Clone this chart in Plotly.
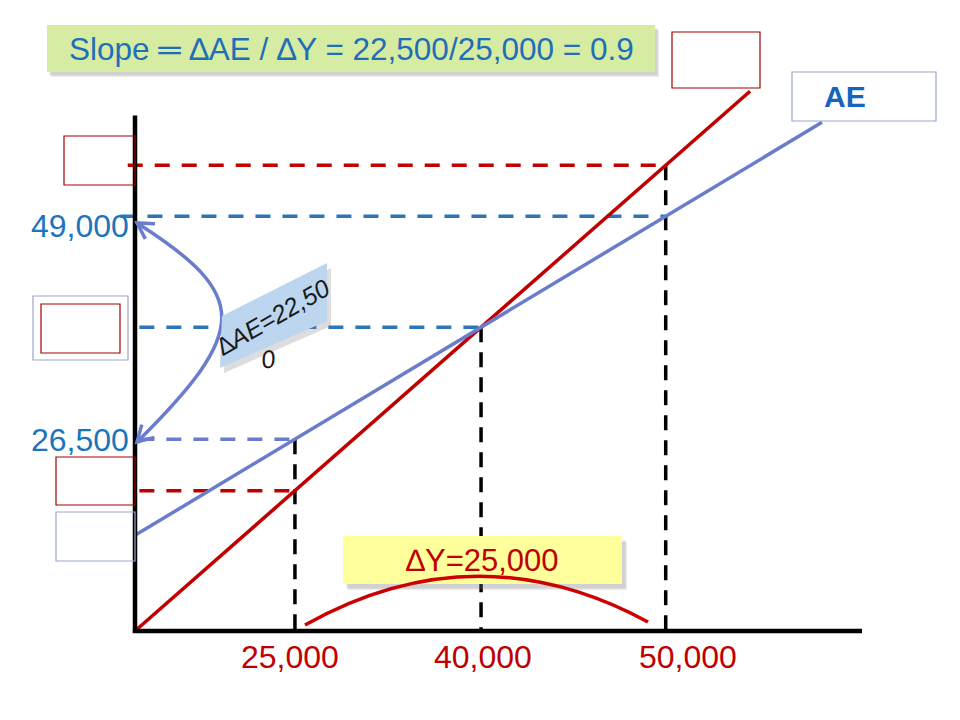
import math
import plotly.graph_objects as go

# ---------------- data (schematic diagram units) ----------------
income_labels = ["25,000", "40,000", "50,000"]      # x tick labels (Y)
income_pos = [22.0, 47.6, 73.0]                      # schematic positions of Y1, Y*, Y2
ae_labels = ["26,500", "49,000"]                     # AE values read at Y1 and Y2
ae_intercept = 15.0                                  # autonomous spending (schematic)
ae_slope = 0.685                                     # schematic slope of AE line
line45_end = 84.6
ae_end = 94.5
x_axis_end = 100.0
y_axis_end = 80.8

slope_text = "Slope ═ ∆AE / ∆Y = 22,500/25,000 = 0.9"
dAE_text = "∆AE=22,50"
dY_text = "∆Y=25,000"

# ---------------- geometry helpers ----------------
W, H = 960, 720
OX, OY = 135, 631          # pixel location of origin
XS, YS = 7.27, 6.38        # pixels per schematic unit


def px(x, y):
    """pixel -> paper coords for decorations"""
    return x / W, 1 - y / H


def ae(x):
    return ae_intercept + ae_slope * x


FONT = "Arial, Liberation Sans, sans-serif"
RED = "#c00000"
BLUE_LINE = "#6a7dcd"
BLUE_DASH = "#2e75b6"
LABEL_BLUE = "#1b75bc"

fig = go.Figure()

# ---------------- dashed guide lines ----------------
y1, ystar, y2 = income_pos
guides = [
    (-1.0, y2, y2, RED),
    (-2.0, y2, ae(y2), BLUE_DASH),
    (0.6, ystar, ae(ystar), BLUE_DASH),
    (0.6, y1, ae(y1), BLUE_LINE),
    (0.6, y1, y1, RED),
]
for x0, x1, yv, col in guides:
    fig.add_trace(go.Scatter(x=[x0, x1], y=[yv, yv], mode="lines",
                             line=dict(color=col, width=3.5, dash="15px,12px"),
                             hoverinfo="skip", showlegend=False))

vert_tops = [ae(y1), ae(ystar), y2]
for xv, top in zip(income_pos, vert_tops):
    fig.add_trace(go.Scatter(x=[xv, xv], y=[top, 0], mode="lines",
                             line=dict(color="black", width=3.5, dash="15px,10px"),
                             hoverinfo="skip", showlegend=False))

# ---------------- main lines ----------------
fig.add_trace(go.Scatter(x=[0, line45_end], y=[0, line45_end], mode="lines",
                         line=dict(color=RED, width=3.5), hoverinfo="skip", showlegend=False))
fig.add_trace(go.Scatter(x=[0, ae_end], y=[ae(0), ae(ae_end)], mode="lines",
                         line=dict(color=BLUE_LINE, width=3.5), hoverinfo="skip", showlegend=False))

# ---------------- axes ----------------
fig.add_trace(go.Scatter(x=[-0.3, x_axis_end], y=[0, 0], mode="lines",
                         line=dict(color="black", width=4.5), hoverinfo="skip", showlegend=False))
fig.add_trace(go.Scatter(x=[0, 0], y=[-0.3, y_axis_end], mode="lines",
                         line=dict(color="black", width=4.5), hoverinfo="skip", showlegend=False))

shapes = []
annotations = []


def rect(x0, y0, x1, y1, line_color=None, fill=None, lw=1.0, layer="above", opacity=1.0):
    a, b = px(x0, y0)
    c, d = px(x1, y1)
    shapes.append(dict(type="rect", xref="paper", yref="paper", x0=a, y0=d, x1=c, y1=b,
                       line=dict(color=line_color or "rgba(0,0,0,0)", width=lw if line_color else 0),
                       fillcolor=fill or "rgba(0,0,0,0)", layer=layer, opacity=opacity))


def path(points, close=False, color=None, width=2, fill=None, layer="above", curve=None):
    pts = [px(*p) for p in points]
    if curve == "C":
        s = "M {} {} C {} {}, {} {}, {} {}".format(*[v for p in pts for v in p])
    elif curve == "Q":
        s = "M {} {} Q {} {}, {} {}".format(*[v for p in pts for v in p])
    else:
        s = "M " + " L ".join(f"{p[0]} {p[1]}" for p in pts)
        if close:
            s += " Z"
    shapes.append(dict(type="path", xref="paper", yref="paper", path=s,
                       line=dict(color=color or "rgba(0,0,0,0)", width=width if color else 0),
                       fillcolor=fill or "rgba(0,0,0,0)", layer=layer))


def text(x, y, s, size=30, color="black", bold=False, xanchor="center", angle=0, italic=False):
    a, b = px(x, y)
    if bold:
        s = f"<b>{s}</b>"
    if italic:
        s = f"<i>{s}</i>"
    annotations.append(dict(xref="paper", yref="paper", x=a, y=b, text=s, showarrow=False,
                            xanchor=xanchor, yanchor="middle", textangle=angle,
                            font=dict(family=FONT, size=size, color=color)))


# ---- slope box with soft shadow ----
for i, op in enumerate([0.10, 0.12, 0.16]):
    rect(47 + 2 + i, 25 + 3 + i, 655 + 2 + i, 72 + 3 + i, fill="#7a7a7a", opacity=op)
rect(47, 25, 655, 72, fill="#d7eca3")
text(351, 49, slope_text, size=31.5, color="#1f6fb6")

# ---- empty red / gray boxes ----
rect(672, 32, 760, 88, line_color="#a80000", lw=1.2)
rect(792, 72, 936, 121, line_color="#9aa7cf", lw=1.2)
text(845, 97, "AE", size=30, color="#1565c0", bold=True)
rect(64, 136, 135, 185, line_color="#a80000", lw=1.2)
rect(33, 296, 128, 360, line_color="#9aa7cf", lw=1.2)
rect(41, 304, 120, 353, line_color="#a80000", lw=1.2)
rect(56, 457, 135, 505, line_color="#a80000", lw=1.2)
rect(56, 512, 135, 561, line_color="#9aa7cf", lw=1.2)

# ---- AE value labels on vertical axis ----
label_dy = [1, 10]
for lab, yv, dy in zip(ae_labels, [ae(y1), ae(y2)], label_dy):
    ypx = OY - yv * YS
    text(131, ypx + dy, lab, size=32, color=LABEL_BLUE, xanchor="right")

# ---- income labels on horizontal axis ----
label_shift = [-5, 2, 22]
for lab, xv, sh in zip(income_labels, income_pos, label_shift):
    text(OX + xv * XS + sh, 657, lab, size=32, color=RED)

# ---- curved double arrow (delta AE) ----
p0 = (137, 223)
c1 = (250, 295)
c2 = (250, 330)
p3 = (137, 442)
path([p0, c1, c2, p3], color=BLUE_LINE, width=3.5, curve="C")
for tip, ctrl in [(p0, c1), (p3, c2)]:
    dx, dy = ctrl[0] - tip[0], ctrl[1] - tip[1]
    ang = math.atan2(dy, dx)
    arms = []
    for d in (-0.52, 0.52):
        arms.append((tip[0] + 18 * math.cos(ang + d), tip[1] + 18 * math.sin(ang + d)))
    path([arms[0], tip, arms[1]], color=BLUE_LINE, width=3.5)

# ---- rotated delta AE label box ----
path([(226, 320), (331, 268), (331, 326), (224, 373)], close=True, fill="rgba(120,120,120,0.25)")
path([(222, 316), (327, 263), (327, 321), (220, 368)], close=True, fill="#bcd6f0")
text(273, 317, dAE_text, size=25, color="#1a1a1a", angle=-30, italic=True)
text(268, 359, "0", size=25, color="#1a1a1a", angle=-10, italic=True)

# ---- delta Y box ----
for i, op in enumerate([0.10, 0.12, 0.16]):
    rect(343 + 3 + i, 536 + 4 + i, 622 + 3 + i, 584 + 4 + i, fill="#7a7a7a", opacity=op)
rect(343, 536, 622, 584, fill="#ffff9c")
text(482, 560, dY_text, size=31, color=RED)
path([(305, 625), (476, 529), (648, 622)], color="#cc0000", width=3.5, curve="Q")

fig.update_layout(
    width=W, height=H, autosize=False,
    margin=dict(l=0, r=0, t=0, b=0),
    paper_bgcolor="white", plot_bgcolor="white",
    xaxis=dict(range=[-OX / XS, (W - OX) / XS], visible=False, fixedrange=True),
    yaxis=dict(range=[-(H - OY) / YS, OY / YS], visible=False, fixedrange=True),
    shapes=shapes, annotations=annotations, showlegend=False,
)

fig.write_html("out.html", config={"displayModeBar": False},
               post_script="document.body.style.margin='0';")
